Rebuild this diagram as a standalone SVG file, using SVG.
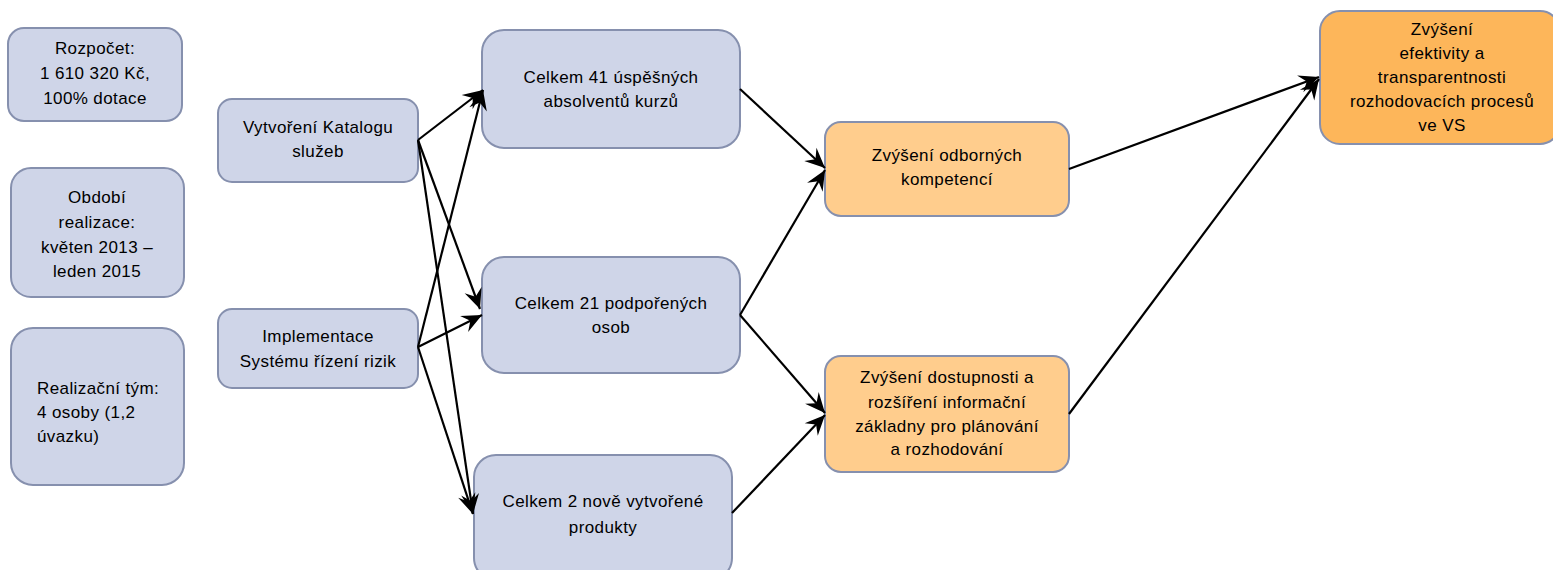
<svg xmlns="http://www.w3.org/2000/svg" width="1553" height="570" viewBox="0 0 1553 570">
<style>
.b{fill:#cfd5e8;stroke:#8690ae;stroke-width:2}
.o{fill:#ffcd8d;stroke:#8690ae;stroke-width:2}
.o2{fill:#fdb65a;stroke:#8690ae;stroke-width:2}
text{font-family:"Liberation Sans",Arial,sans-serif;font-size:17px;letter-spacing:0.4px;fill:#000}
.c{text-anchor:middle}
.e{stroke:#000;stroke-width:2.2;fill:none;marker-end:url(#ah)}
</style>
<defs>
<marker id="ah" markerUnits="userSpaceOnUse" viewBox="-22 -11 23 22" markerWidth="23" markerHeight="22" refX="0" refY="0" orient="auto">
<path d="M0,0 L-20,-9 L-13,0 L-20,9 Z" fill="#000"/>
</marker>
</defs>
<rect width="1553" height="570" fill="#fff"/>
<g id="n-rozpocet"><rect class="b" x="8" y="28" width="174" height="93" rx="16"/>
<text class="c"><tspan x="95" y="54">Rozpočet:</tspan><tspan x="95" y="79">1 610 320 Kč,</tspan><tspan x="95" y="104">100% dotace</tspan></text></g>
<g id="n-obdobi"><rect class="b" x="11" y="168" width="173" height="129" rx="20"/>
<text class="c"><tspan x="97" y="203">Období</tspan><tspan x="97" y="228">realizace:</tspan><tspan x="97" y="253">květen 2013 –</tspan><tspan x="97" y="277">leden 2015</tspan></text></g>
<g id="n-tym"><rect class="b" x="11" y="328" width="173" height="157" rx="22"/>
<text><tspan x="37" y="394">Realizační tým:</tspan><tspan x="37" y="418">4 osoby (1,2</tspan><tspan x="37" y="442">úvazku)</tspan></text></g>
<g id="n-katalog"><rect class="b" x="218" y="99" width="200" height="83" rx="14"/>
<text class="c"><tspan x="318" y="133">Vytvoření Katalogu</tspan><tspan x="318" y="157">služeb</tspan></text></g>
<g id="n-rizika"><rect class="b" x="218" y="309" width="200" height="79" rx="14"/>
<text class="c"><tspan x="318" y="342">Implementace</tspan><tspan x="318" y="367">Systému řízení rizik</tspan></text></g>
<g id="n-c41"><rect class="b" x="482" y="30" width="258" height="118" rx="22"/>
<text class="c"><tspan x="611" y="83">Celkem 41 úspěšných</tspan><tspan x="611" y="107">absolventů kurzů</tspan></text></g>
<g id="n-c21"><rect class="b" x="482" y="257" width="258" height="116" rx="22"/>
<text class="c"><tspan x="611" y="309">Celkem 21 podpořených</tspan><tspan x="611" y="333">osob</tspan></text></g>
<g id="n-c2"><rect class="b" x="474" y="455" width="258" height="125" rx="22"/>
<text class="c"><tspan x="603" y="507">Celkem 2 nově vytvořené</tspan><tspan x="603" y="533">produkty</tspan></text></g>
<g id="n-odbor"><rect class="o" x="825" y="122" width="244" height="94" rx="16"/>
<text class="c"><tspan x="947" y="161">Zvýšení odborných</tspan><tspan x="947" y="185">kompetencí</tspan></text></g>
<g id="n-dostup"><rect class="o" x="825" y="356" width="244" height="116" rx="16"/>
<text class="c"><tspan x="947" y="383">Zvýšení dostupnosti a</tspan><tspan x="947" y="408">rozšíření informační</tspan><tspan x="947" y="432">základny pro plánování</tspan><tspan x="947" y="455">a rozhodování</tspan></text></g>
<g id="n-efekt"><rect class="o2" x="1320" y="11" width="240" height="133" rx="20"/>
<text class="c"><tspan x="1442" y="35">Zvýšení</tspan><tspan x="1442" y="59">efektivity a</tspan><tspan x="1442" y="83">transparentnosti</tspan><tspan x="1442" y="107">rozhodovacích procesů</tspan><tspan x="1442" y="131">ve VS</tspan></text></g>
<g id="connectors">
<line class="e" x1="418" y1="140" x2="483" y2="90"/>
<line class="e" x1="418" y1="140" x2="480" y2="309"/>
<line class="e" x1="418" y1="140" x2="473" y2="514"/>
<line class="e" x1="418" y1="347" x2="483" y2="90"/>
<line class="e" x1="418" y1="347" x2="482" y2="315"/>
<line class="e" x1="418" y1="347" x2="473" y2="514"/>
<line class="e" x1="740" y1="89" x2="825" y2="168"/>
<line class="e" x1="740" y1="315" x2="825" y2="170"/>
<line class="e" x1="740" y1="315" x2="825" y2="413"/>
<line class="e" x1="732" y1="513" x2="825" y2="415"/>
<line class="e" x1="1069" y1="169" x2="1319" y2="77"/>
<line class="e" x1="1069" y1="414" x2="1319" y2="79"/>
</g>
</svg>
